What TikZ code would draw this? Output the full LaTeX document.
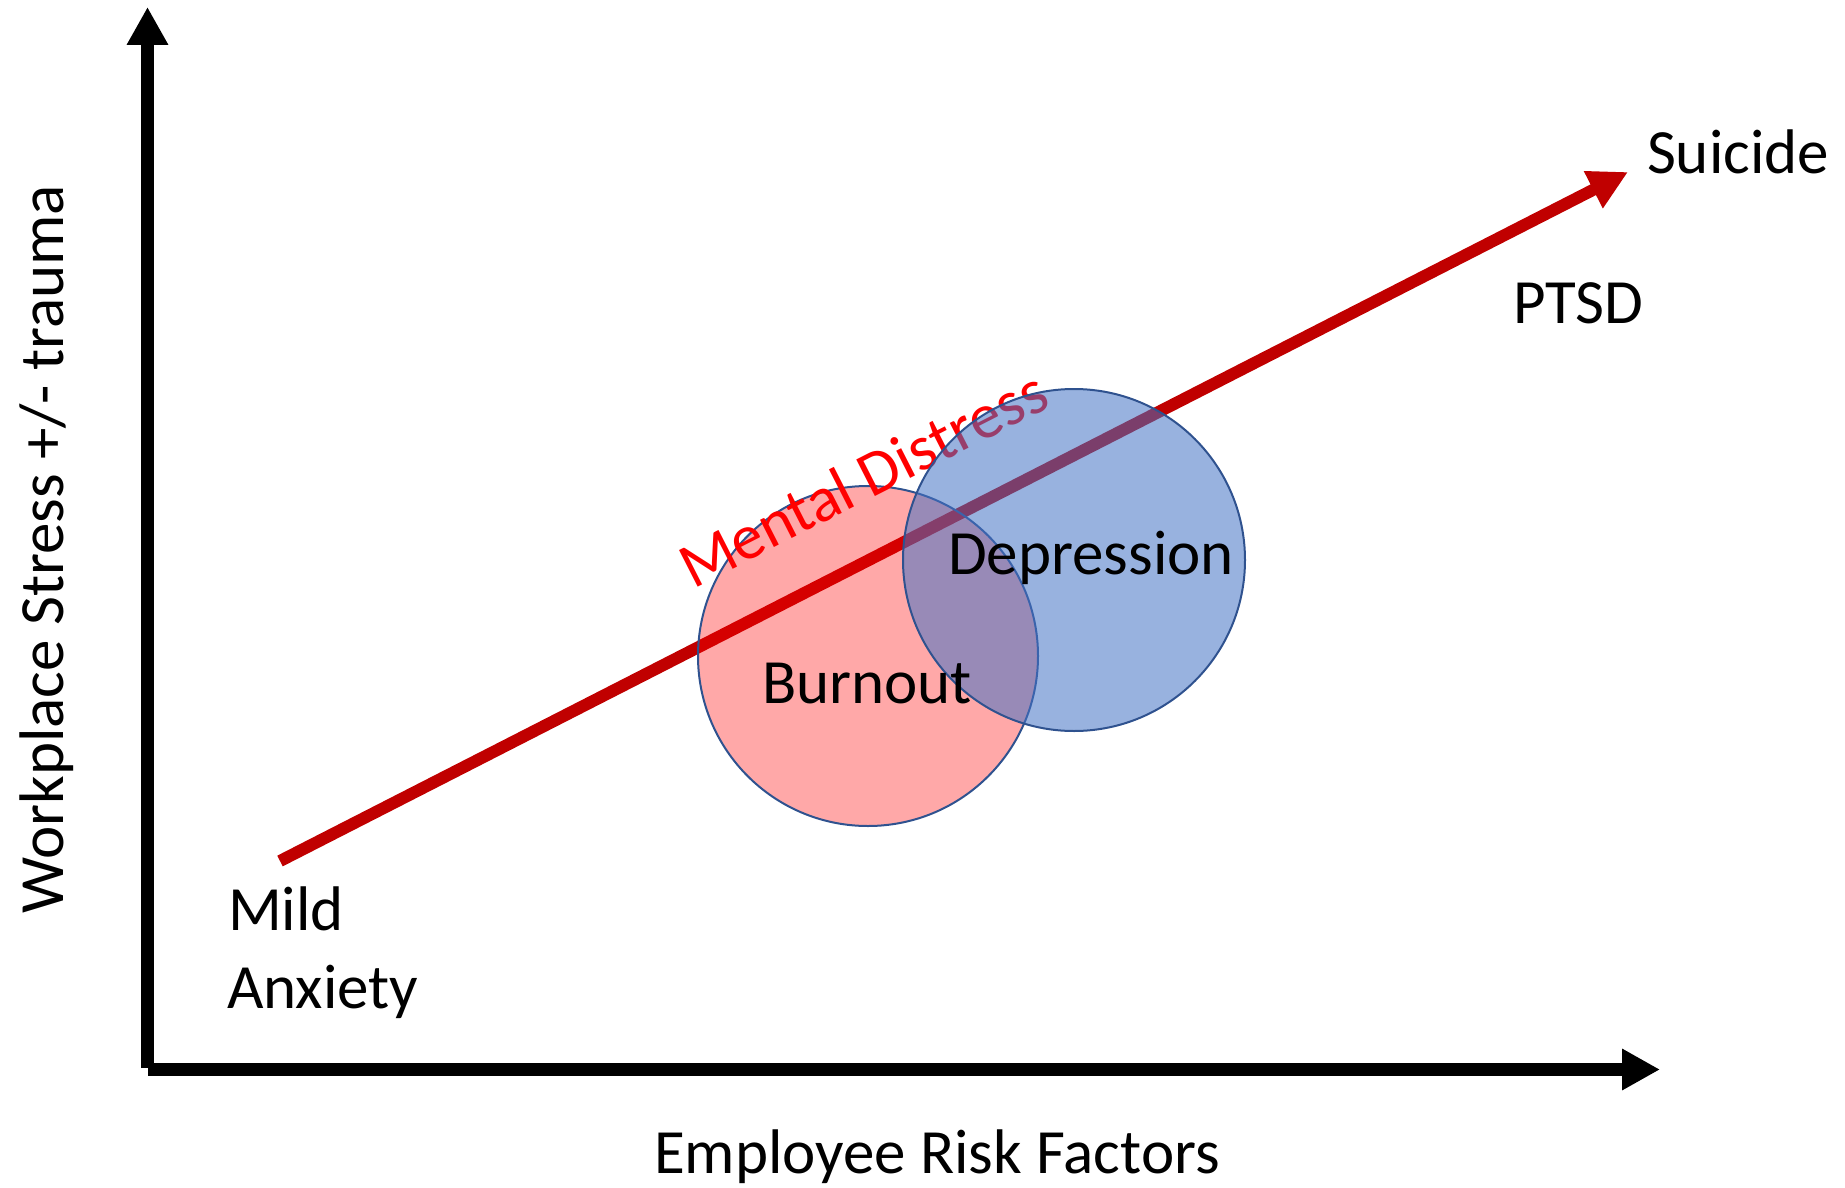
\documentclass[tikz,border=0pt]{standalone}
\usepackage{fontspec}
\setmainfont{Carlito}
\usetikzlibrary{arrows.meta}
\definecolor{linered}{HTML}{C00000}
\definecolor{ringblue}{HTML}{2F528F}
\definecolor{fillblue}{HTML}{4472C4}
\definecolor{textred}{HTML}{FF0000}

\begin{document}
\begin{tikzpicture}[x=1pt,y=-1pt,
  txt/.style={inner sep=0pt, outer sep=0pt, font=\fontsize{63}{76}\selectfont},
  axis/.style={line width=13pt, -{Triangle[length=38pt,width=39pt]}},
  trend/.style={line width=12pt, draw=linered, -{Triangle[length=39pt,width=39pt]}},
  ring/.style={circle, draw=ringblue, line width=2pt, inner sep=0pt}
]
  \useasboundingbox (0,0) rectangle (1845,1188);

  % axes
  \coordinate (ybase) at (147.5,1068);
  \coordinate (ytop)  at (147.5,7);
  \coordinate (xbase) at (148,1069.5);
  \coordinate (xend)  at (1660,1069.5);
  \draw[axis] (ybase) -- (ytop);
  \draw[axis] (xbase) -- (xend);

  % axis titles
  \node[txt, anchor=base] (ytitle) at (63,549) [rotate=90] {Workplace Stress +/- trauma};
  \node[txt, anchor=base] (xtitle) at (937,1173) {Employee Risk Factors};

  % rising trend from mild anxiety to suicide
  \coordinate (low)  at (280,861);
  \coordinate (high) at (1628,172);
  \draw[trend] (low) -- (high);

  % burnout circle (translucent, over the trend line)
  \node[ring, fill=red, fill opacity=0.34, minimum size=340pt] (burnoutc) at (868,656) {};

  % label along the trend
  \node[txt, font=\fontsize{64}{76}\selectfont, text=textred, anchor=base west, rotate=27]
    (distress) at (693,589) {Mental Distress};

  % depression circle
  \node[ring, fill=fillblue, fill opacity=0.55, minimum size=342pt] (depressionc) at (1074,560) {};

  % circle labels
  \node[txt, anchor=base] (burnout) at (867,703) {Burnout};
  \node[txt, anchor=base] (depression) at (1091,574) {Depression};

  % stage labels
  \node[txt, anchor=base west] (mild) at (228,930) {Mild};
  \node[txt, anchor=base west] (anxiety) at (227,1008) {Anxiety};
  \node[txt, anchor=base west] (ptsd) at (1513,323) {PTSD};
  \node[txt, anchor=base west] (suicide) at (1647,173) {Suicide};
\end{tikzpicture}
\end{document}
